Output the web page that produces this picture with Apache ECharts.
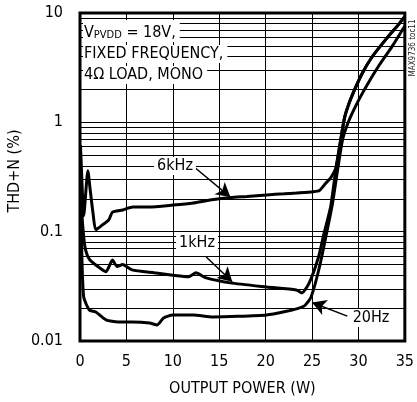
<!DOCTYPE html>
<html>
<head>
<meta charset="utf-8">
<script src="https://cdn.jsdelivr.net/npm/echarts@6/dist/echarts.min.js"></script>
<style>
	html, body { margin: 0; padding: 0; background: #fff; }
	#chart { width: 417px; height: 402px; }
</style>
</head>
<body>
<div id="chart"></div>
<script>
// Output power (W) and THD+N (%)
let p6k = [0.05, 0.2, 0.4, 0.85, 1.1, 1.4, 1.7, 2.4, 3.1, 3.5, 4.6, 5.7, 7.4, 10, 12.2, 14, 16.2, 18, 20.1, 22, 23.3, 25.1, 25.8, 26.5, 27.0, 27.6, 28.1, 28.5, 29.0, 29.6, 30.4, 31.5, 33.0, 34.4, 35];
let thd6k = [0.62, 0.3, 0.14, 0.36, 0.24, 0.148, 0.104, 0.115, 0.128, 0.151, 0.158, 0.168, 0.168, 0.175, 0.183, 0.195, 0.205, 0.21, 0.217, 0.222, 0.226, 0.232, 0.238, 0.279, 0.31, 0.39, 0.7, 1.1, 1.5, 2.0, 2.8, 4.0, 5.8, 8.0, 9.3];

let p1k = [0.05, 0.2, 0.4, 0.6, 1.0, 1.7, 2.8, 3.5, 4.0, 4.6, 5.6, 8, 10, 11.7, 12.5, 13.5, 16.2, 20.1, 23.3, 23.9, 24.7, 25.7, 26.3, 27.0, 27.6, 28.1, 28.5, 29.0, 29.6, 30.4, 31.5, 33.0, 34.4, 35];
let thd1k = [0.5, 0.15, 0.09, 0.068, 0.056, 0.0496, 0.043, 0.055, 0.048, 0.05, 0.0447, 0.042, 0.040, 0.0387, 0.042, 0.038, 0.034, 0.0312, 0.0293, 0.0275, 0.034, 0.0587, 0.097, 0.168, 0.39, 0.7, 1.1, 1.5, 2.0, 2.8, 4.0, 5.8, 8.0, 9.3];

let p20 = [0.05, 0.2, 0.4, 1.0, 1.7, 2.8, 4.1, 5.6, 7.5, 8.3, 9.0, 10, 12.2, 14.3, 17, 20.1, 22, 23.6, 24.2, 24.9, 25.8, 26.7, 27.2, 27.8, 28.3, 28.9, 29.5, 30.2, 31.2, 32.3, 33.6, 35];
let thd20 = [0.3, 0.06, 0.0253, 0.0192, 0.0184, 0.0156, 0.0149, 0.0149, 0.0146, 0.014, 0.0162, 0.0173, 0.0173, 0.0166, 0.0168, 0.0173, 0.0185, 0.02, 0.021, 0.0253, 0.0475, 0.11, 0.18, 0.39, 0.7, 1.0, 1.3, 1.7, 2.4, 3.4, 4.9, 7.6];

// Log grid lines between decades
let minorLines = [0.02, 0.03, 0.04, 0.05, 0.06, 0.07, 0.08, 0.09, 0.2, 0.3, 0.4, 0.5, 0.6, 0.7, 0.8, 0.9, 2, 3, 4, 5, 6, 7, 8, 9];

// Arrows from the curve labels: [fromW, fromThd, toW, toThd]
let arrow6k = [12.3, 0.39, 16.2, 0.207];
let arrow1k = [13.6, 0.0587, 16.4, 0.0348];
let arrow20 = [28.8, 0.0169, 25.0, 0.0225];

const FONT = '"Liberation Sans Narrow", "DejaVu Sans Condensed", "Arial Narrow", sans-serif';

function zip(xs, ys) {
	let out = [];
	for (let i = 0; i < xs.length; i++) {
		out.push([xs[i], ys[i]]);
	}
	return out;
}

function arrowLine(a) {
	return {
		silent: true,
		symbol: ['none', 'arrow'],
		symbolSize: [12, 14],
		label: { show: false },
		lineStyle: { color: '#000', width: 1.5, type: 'solid' },
		emphasis: { disabled: true },
		data: [[
			{ coord: [a[0], a[1]] },
			{ coord: [a[2], a[3]] }
		]]
	};
}

function curve(name, xs, ys, arrow) {
	return {
		name: name,
		type: 'line',
		data: zip(xs, ys),
		smooth: 0.2,
		showSymbol: false,
		lineStyle: { color: '#000', width: 3 },
		z: 5,
		markLine: arrowLine(arrow)
	};
}

function label(text, x, y) {
	return {
		type: 'text',
		x: x,
		y: y,
		z: 100,
		style: {
			text: text,
			fontSize: 16,
			fontFamily: FONT,
			fill: '#000',
			align: 'center',
			verticalAlign: 'middle',
			backgroundColor: '#fff',
			padding: [1, 3]
		}
	};
}

function noteLine(text, y, rich) {
	let el = {
		type: 'text',
		x: 83,
		y: y,
		z: 100,
		style: {
			text: text,
			fontSize: 16,
			fontFamily: FONT,
			fill: '#000',
			align: 'left',
			verticalAlign: 'middle',
			backgroundColor: '#fff',
			padding: [1, 4, 1, 1]
		}
	};
	if (rich) el.style.rich = rich;
	return el;
}

let chart = echarts.init(document.getElementById('chart'), null, { renderer: 'canvas' });

let option = {
	animation: false,
	backgroundColor: '#fff',
	textStyle: { fontFamily: FONT },
	grid: {
		left: 80, right: 7, top: 13, bottom: 61,
		show: true,
		borderColor: '#000',
		borderWidth: 3,
		backgroundColor: 'transparent'
	},
	xAxis: {
		type: 'value',
		min: 0, max: 35, interval: 5,
		name: 'OUTPUT POWER (W)',
		nameLocation: 'middle',
		nameGap: 40,
		nameTextStyle: { fontSize: 16, color: '#000', fontFamily: FONT },
		axisLine: { show: false },
		axisTick: { show: false },
		axisLabel: { fontSize: 16, color: '#000', margin: 13, fontFamily: FONT },
		splitLine: { show: true, lineStyle: { color: '#000', width: 1 } }
	},
	yAxis: {
		type: 'log',
		logBase: 10,
		min: 0.01, max: 10,
		axisLine: { show: false },
		axisTick: { show: false },
		axisLabel: {
			fontSize: 16, color: '#000', margin: 17, fontFamily: FONT,
			formatter: function (v) { return String(v); }
		},
		splitLine: { show: true, lineStyle: { color: '#000', width: 1 } }
	},
	series: [
		{
			// only carries the minor log grid
			name: 'grid',
			type: 'line',
			data: [],
			z: 1,
			markLine: {
				silent: true,
				symbol: 'none',
				label: { show: false },
				lineStyle: { color: '#000', width: 1, type: 'solid' },
				emphasis: { disabled: true },
				data: minorLines.map(function (v) { return { yAxis: v }; })
			}
		},
		curve('6kHz', p6k, thd6k, arrow6k),
		curve('1kHz', p1k, thd1k, arrow1k),
		curve('20Hz', p20, thd20, arrow20)
	],
	graphic: [
		noteLine('{n|V}{s|PVDD}{n| = 18V,}', 31, {
			n: { fontSize: 16, fontFamily: FONT, fill: '#000', lineHeight: 20, verticalAlign: 'bottom' },
			s: { fontSize: 11, fontFamily: FONT, fill: '#000', lineHeight: 16, verticalAlign: 'bottom' }
		}),
		noteLine('FIXED FREQUENCY,', 54),
		noteLine('4\u03a9 LOAD, MONO', 75),
		label('6kHz', 175, 166),
		label('1kHz', 197, 243),
		label('20Hz', 371, 318),
		{
			type: 'text', x: 15, y: 171, rotation: Math.PI / 2, z: 100,
			style: { text: 'THD+N (%)', fontSize: 16, fontFamily: FONT, fill: '#000', align: 'center', verticalAlign: 'middle' }
		},
		{
			type: 'text', x: 413, y: 48, rotation: Math.PI / 2, z: 100,
			style: { text: 'MAX9736 toc11', fontSize: 8, fontFamily: FONT, fill: '#222', align: 'center', verticalAlign: 'middle' }
		}
	]
};

chart.setOption(option);
</script>
</body>
</html>
